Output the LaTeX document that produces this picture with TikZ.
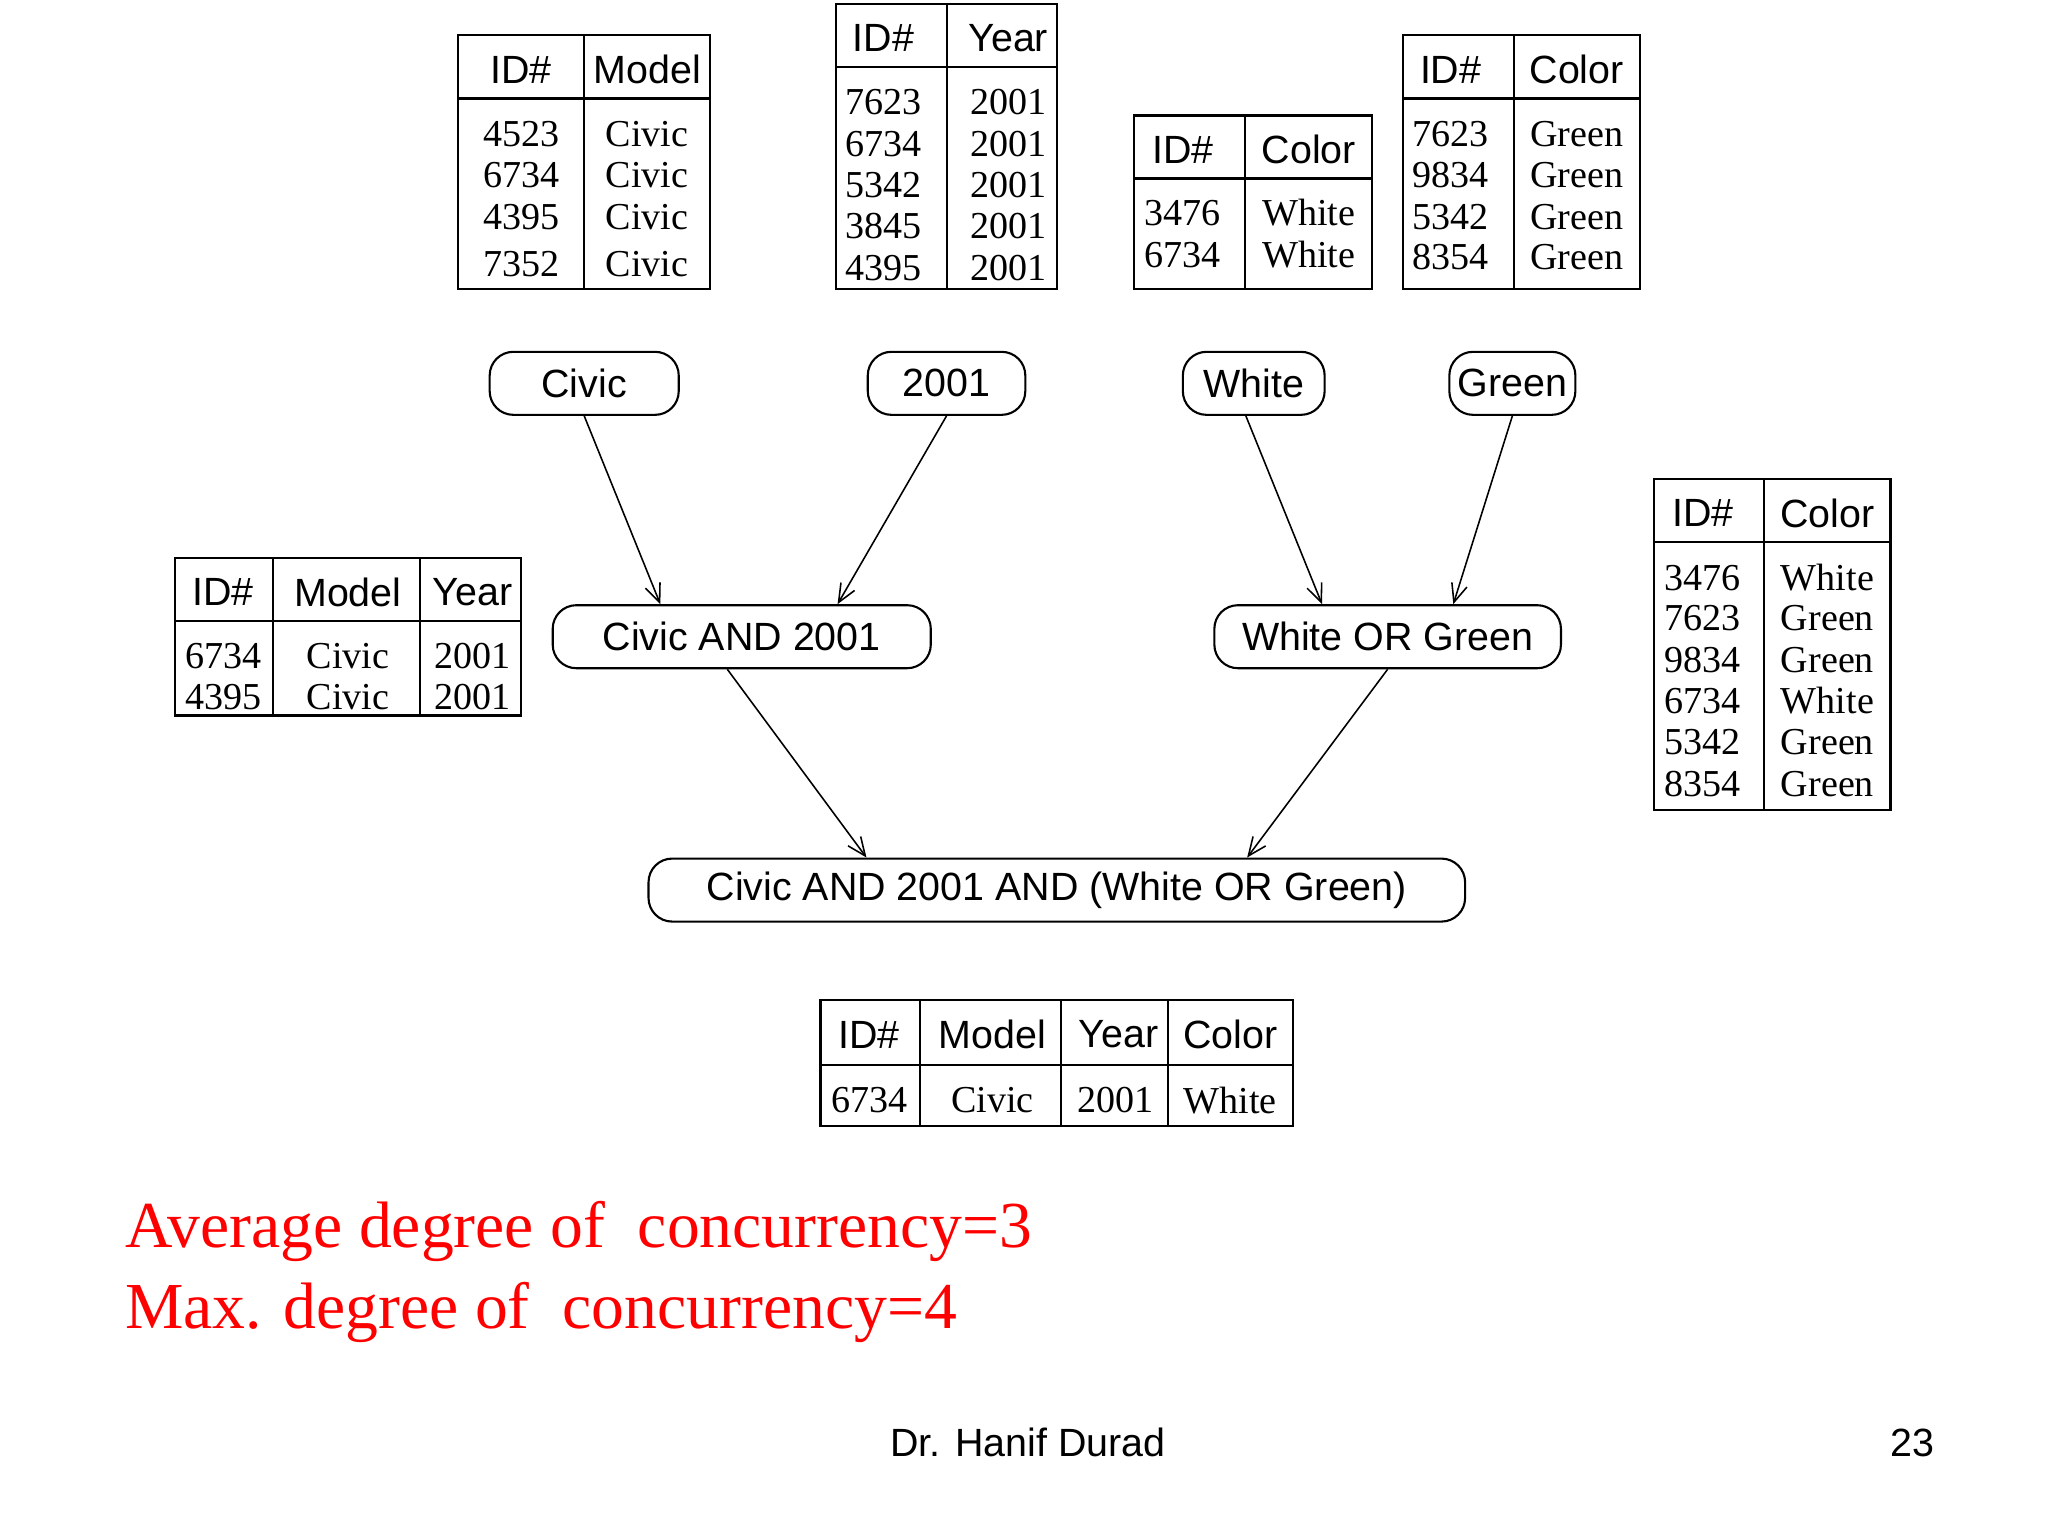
\documentclass[tikz,border=0pt]{standalone}
\usepackage{fontspec}
\setmainfont{Liberation Serif}
\setsansfont{Liberation Sans}
\usetikzlibrary{arrows.meta}
\begin{document}
\begin{tikzpicture}[x=0.5pt,y=-0.5pt,
  tb/.style={draw,line width=0.8pt},
  hd/.style={font=\sffamily\fontsize{15}{15}\selectfont,inner sep=0pt},
  cl/.style={font=\fontsize{14.5}{14.5}\selectfont,inner sep=0pt},
  op/.style={draw,rounded corners=9pt,line width=0.8pt,font=\sffamily\fontsize{15}{15}\selectfont,inner sep=0pt},
  ar/.style={-{Straight Barb[length=7pt,width=6pt]},line width=0.6pt}]
\useasboundingbox (0,0) rectangle (1560,1170);
% table 1
\draw[tb] (349,27) rectangle (541,220); \draw[tb] (349,75)--(541,75); \draw[tb] (445,27)--(445,220);
\node[hd] at (397,53) {ID\#}; \node[hd] at (493,53) {Model};
\foreach \y/\a in {102/4523,133/6734,165/4395,201/7352}{\node[cl] at (397,\y){\a}; \node[cl] at (493,\y){Civic};}
% table 2
\draw[tb] (637,3) rectangle (805,220); \draw[tb] (637,51)--(805,51); \draw[tb] (721,3)--(721,220);
\node[hd] at (673,29) {ID\#}; \node[hd] at (768,29) {Year};
\foreach \y/\a in {78/7623,110/6734,141/5342,172/3845,204/4395}{\node[cl] at (673,\y){\a}; \node[cl] at (768,\y){2001};}
% table 3
\draw[tb] (864,88) rectangle (1045,220); \draw[tb] (864,136)--(1045,136); \draw[tb] (948,88)--(948,220);
\node[hd] at (901,114) {ID\#}; \node[hd] at (997,114) {Color};
\foreach \y/\a in {162/3476,194/6734}{\node[cl] at (901,\y){\a}; \node[cl] at (997,\y){White};}
% table 4
\draw[tb] (1069,27) rectangle (1249,220); \draw[tb] (1069,75)--(1249,75); \draw[tb] (1153,27)--(1153,220);
\node[hd] at (1105,53) {ID\#}; \node[hd] at (1201,53) {Color};
\foreach \y/\a in {102/7623,133/9834,165/5342,196/8354}{\node[cl] at (1105,\y){\a}; \node[cl] at (1201,\y){Green};}
% table 5
\draw[tb] (133,425) rectangle (397,545); \draw[tb] (133,473)--(397,473); \draw[tb] (208,425)--(208,545); \draw[tb] (320,425)--(320,545);
\node[hd] at (170,451) {ID\#}; \node[hd] at (265,451) {Model}; \node[hd] at (360,451) {Year};
\foreach \y/\a in {500/6734,531/4395}{\node[cl] at (170,\y){\a}; \node[cl] at (265,\y){Civic}; \node[cl] at (360,\y){2001};}
% table 6
\draw[tb] (1260,365) rectangle (1440,617); \draw[tb] (1260,413)--(1440,413); \draw[tb] (1344,365)--(1344,617);
\node[hd] at (1297,391) {ID\#}; \node[hd] at (1392,391) {Color};
\foreach \y/\a/\c in {440/3476/White,471/7623/Green,503/9834/Green,534/6734/White,565/5342/Green,597/8354/Green}{\node[cl] at (1297,\y){\a}; \node[cl] at (1392,\y){\c};}
% table 7
\draw[tb] (625,762) rectangle (985,858); \draw[tb] (625,811)--(985,811); \draw[tb] (701,762)--(701,858); \draw[tb] (808,762)--(808,858); \draw[tb] (890,762)--(890,858);
\node[hd] at (662,788) {ID\#}; \node[hd] at (756,788) {Model}; \node[hd] at (852,788) {Year}; \node[hd] at (937,788) {Color};
\node[cl] at (662,838){6734}; \node[cl] at (756,838){Civic}; \node[cl] at (850,838){2001}; \node[cl] at (937,838){White};
% operator nodes
\node[op,minimum width=72pt,minimum height=24pt] (civ) at (445,292) {Civic};
\node[op,minimum width=60pt,minimum height=24pt] (y01) at (721,292) {2001};
\node[op,minimum width=54pt,minimum height=24pt] (wh) at (955,292) {White};
\node[op,minimum width=48pt,minimum height=24pt] (gr) at (1152,292) {Green};
\node[op,minimum width=144pt,minimum height=24pt] (ca) at (565,485) {Civic AND 2001};
\node[op,minimum width=132pt,minimum height=24pt] (wog) at (1057,485) {White OR Green};
\node[op,minimum width=311pt,minimum height=24pt] (fin) at (805,678) {Civic AND 2001 AND (White OR Green)};
\draw[ar] (civ.south) -- (ca.north -| 503,0);
\draw[ar] (y01.south) -- (ca.north -| 638,0);
\draw[ar] (wh.south -| 949,0) -- (wog.north -| 1007,0);
\draw[ar] (gr.south) -- (wog.north -| 1107,0);
\draw[ar] (ca.south -| 554,0) -- (fin.north -| 660,0);
\draw[ar] (wog.south) -- (fin.north -| 950,0);
% red text
\node[anchor=base west,text=red,font=\fontsize{25}{25}\selectfont,inner sep=0pt] (t1) at (95,950) {Average degree of\ \ concurrency=3};
\node[anchor=base west,text=red,font=\fontsize{25}{25}\selectfont,inner sep=0pt] (t2) at (95,1012) {Max. degree of\ \ concurrency=4};
\node[font=\sffamily\fontsize{15}{15}\selectfont] (ft) at (783,1099) {Dr. Hanif Durad};
\node[font=\sffamily\fontsize{15}{15}\selectfont] (pg) at (1457,1099) {23};
\end{tikzpicture}
\end{document}
